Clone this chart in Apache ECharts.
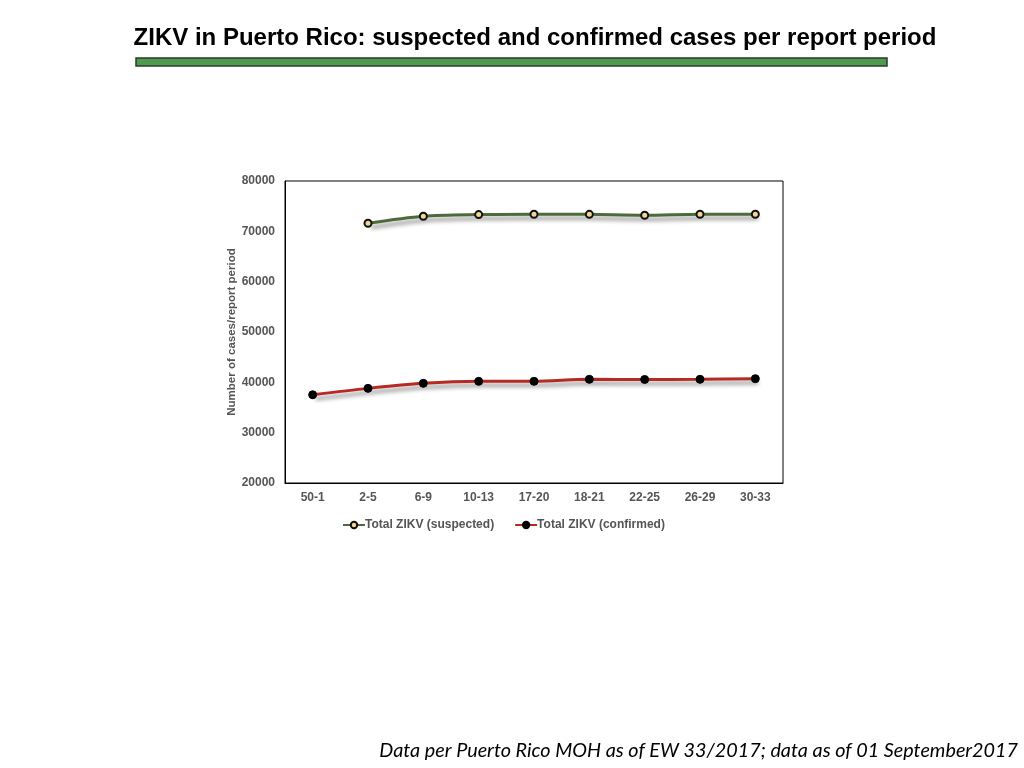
<!DOCTYPE html>
<html>
<head>
<meta charset="utf-8">
<script src="https://cdn.jsdelivr.net/npm/echarts@6/dist/echarts.min.js"></script>
<style>
html,body{margin:0;padding:0;background:#fff;}
#chart{width:1024px;height:768px;}
</style>
</head>
<body>
<div id="chart"></div>
<script>
var categories = ['50-1','2-5','6-9','10-13','17-20','18-21','22-25','26-29','30-33'];
var suspected = [null, 71600, 73000, 73330, 73400, 73370, 73200, 73400, 73400];
var confirmed = [37530, 38800, 39800, 40200, 40200, 40600, 40570, 40600, 40730];
var yTicks = [20000, 30000, 40000, 50000, 60000, 70000, 80000];

var chart = echarts.init(document.getElementById('chart'));
var shadow = {shadowColor:'rgba(0,0,0,0.45)', shadowBlur:4, shadowOffsetX:3, shadowOffsetY:4};
chart.setOption({
  animation:false,
  backgroundColor:'#fff',
  title:[{
    text:'ZIKV in Puerto Rico: suspected and confirmed cases per report period',
    left:530, top:21, textAlign:'center',
    textStyle:{fontFamily:'Liberation Sans, Arial', fontWeight:'bold', fontSize:24, color:'#000'}
  },{
    text:'Data per Puerto Rico MOH as of EW 33/2017; data as of 01 September2017',
    right:6, top:741, padding:0,
    textStyle:{fontFamily:'Lato, Open Sans, sans-serif', fontStyle:'italic', fontWeight:'normal', fontSize:19.8, color:'#000'}
  }],
  graphic:[{
    type:'rect', shape:{x:136, y:58, width:751, height:8},
    style:{fill:'#4e9a4e', stroke:'#2c3a2c', lineWidth:1.5}
  }],
  grid:{left:285, right:241, top:181, bottom:285, show:true, borderColor:'#000', borderWidth:1},
  legend:{
    left:337, top:514, itemWidth:22, itemHeight:8, itemGap:20,
    textStyle:{fontFamily:'Liberation Sans, Arial', fontWeight:'bold', fontSize:12, color:'#555', padding:[0,0,0,-5]},
    data:['Total ZIKV (suspected)','Total ZIKV (confirmed)']
  },
  xAxis:{
    type:'category', data:categories, boundaryGap:true,
    axisLine:{lineStyle:{color:'#000'}},
    axisTick:{show:false},
    axisLabel:{fontFamily:'Liberation Sans, Arial', fontWeight:'bold', fontSize:12, color:'#555', margin:9}
  },
  yAxis:{
    type:'value', min:yTicks[0], max:yTicks[yTicks.length-1], interval:10000,
    name:'Number of cases/report period', nameLocation:'middle', nameGap:46,
    nameTextStyle:{fontFamily:'Liberation Sans, Arial', fontWeight:'bold', fontSize:11.5, color:'#555'},
    axisLine:{show:true, lineStyle:{color:'#000'}},
    axisTick:{show:false},
    splitLine:{show:false},
    axisLabel:{fontFamily:'Liberation Sans, Arial', fontWeight:'bold', fontSize:12, color:'#555', margin:10,
      formatter:function(v){return String(v);}}
  },
  series:[{
    name:'Total ZIKV (suspected)', type:'line', data:suspected, smooth:0.3,
    symbol:'circle', symbolSize:7,
    lineStyle:Object.assign({color:'#4d6b3a', width:3}, shadow),
    itemStyle:{color:'#f0d890', borderColor:'#111', borderWidth:2},
    color:'#4d6b3a'
  },{
    name:'Total ZIKV (confirmed)', type:'line', data:confirmed, smooth:0.3,
    symbol:'circle', symbolSize:8,
    lineStyle:Object.assign({color:'#b52a22', width:3}, shadow),
    itemStyle:{color:'#000', borderColor:'#000', borderWidth:1},
    color:'#b52a22'
  }]
});
</script>
</body>
</html>
